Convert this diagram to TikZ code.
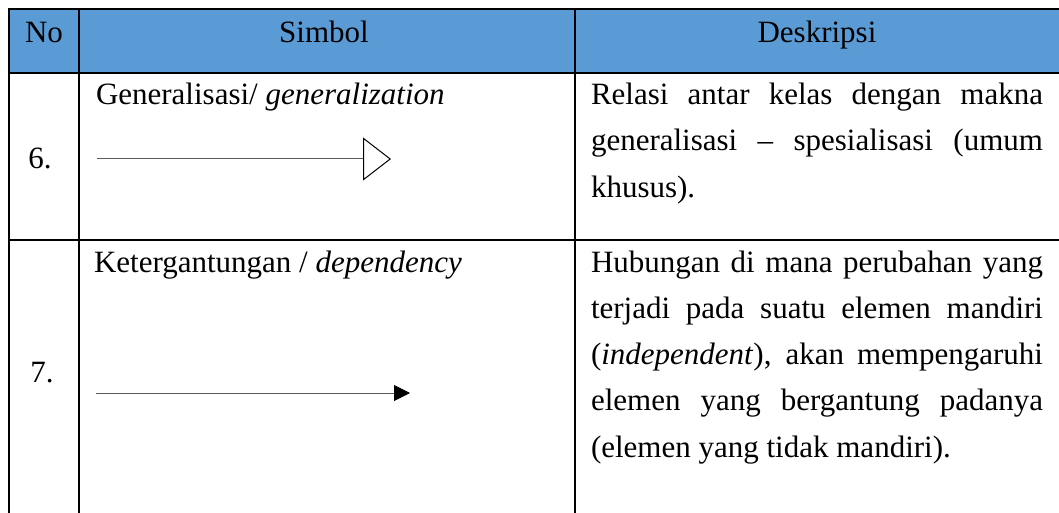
\documentclass[tikz,border=0pt]{standalone}
\usepackage{fontspec}
\setmainfont{Liberation Serif}
\usetikzlibrary{arrows.meta}
\definecolor{headblue}{RGB}{91,155,213}
\definecolor{linegray}{RGB}{90,90,90}
\tikzset{
  txt/.style={inner sep=0pt, outer sep=0pt, anchor=base west, font=\fontsize{31}{32}\selectfont},
  ctxt/.style={txt, anchor=base},
  grid/.style={line width=2pt, black},
  genline/.style={line width=1pt, draw=linegray, -{Triangle[open, length=28pt, width=43pt, line width=1pt, fill=white, color=black]}},
  depline/.style={line width=1pt, draw=linegray, -{Triangle[length=16pt, width=16pt, color=black]}},
}
\newlength{\desclen}
\setlength{\desclen}{452pt}
\begin{document}
\begin{tikzpicture}[x=1pt,y=-1pt]
\useasboundingbox (0,0) rectangle (1059,513);
% header
\fill[headblue] (9,9) rectangle (1060,73);
% grid lines
\draw[grid] (8,9) -- (1060,9);
\draw[grid] (9,73) -- (1060,73);
\draw[grid] (9,240) -- (1060,240);
\draw[grid] (9,8) -- (9,514);
\draw[grid] (79,9) -- (79,514);
\draw[grid] (575,9) -- (575,514);
% header texts
\node[ctxt] (hno) at (44,43) {No};
\node[ctxt] (hsim) at (324,43) {Simbol};
\node[ctxt] (hdes) at (817,43) {Deskripsi};
% row 6
\node[ctxt] (n6) at (40,168) {6.};
\node[txt] (s6) at (96,105) {Generalisasi/ \textit{generalization}};
\coordinate (g1) at (97,159);
\coordinate (g2) at (391,159);
\draw[genline] (g1) -- (g2);
\node[txt] (d6a) at (591,105) {\makebox[\desclen][s]{Relasi antar kelas dengan makna}};
\node[txt] (d6b) at (591,151) {\makebox[\desclen][s]{generalisasi – spesialisasi (umum}};
\node[txt] (d6c) at (591,197) {khusus).};
% row 7
\node[ctxt] (n7) at (42,382) {7.};
\node[txt] (s7) at (94,272) {Ketergantungan / \textit{dependency}};
\coordinate (p1) at (96,393);
\coordinate (p2) at (410,393);
\draw[depline] (p1) -- (p2);
\node[txt] (d7a) at (591,272) {\makebox[\desclen][s]{Hubungan di mana perubahan yang}};
\node[txt] (d7b) at (591,318.3) {\makebox[\desclen][s]{terjadi pada suatu elemen mandiri}};
\node[txt] (d7c) at (591,364.6) {\makebox[\desclen][s]{(\textit{independent}), akan mempengaruhi}};
\node[txt] (d7d) at (591,410.9) {\makebox[\desclen][s]{elemen yang bergantung padanya}};
\node[txt] (d7e) at (591,457.2) {(elemen yang tidak mandiri).};
\end{tikzpicture}
\end{document}
